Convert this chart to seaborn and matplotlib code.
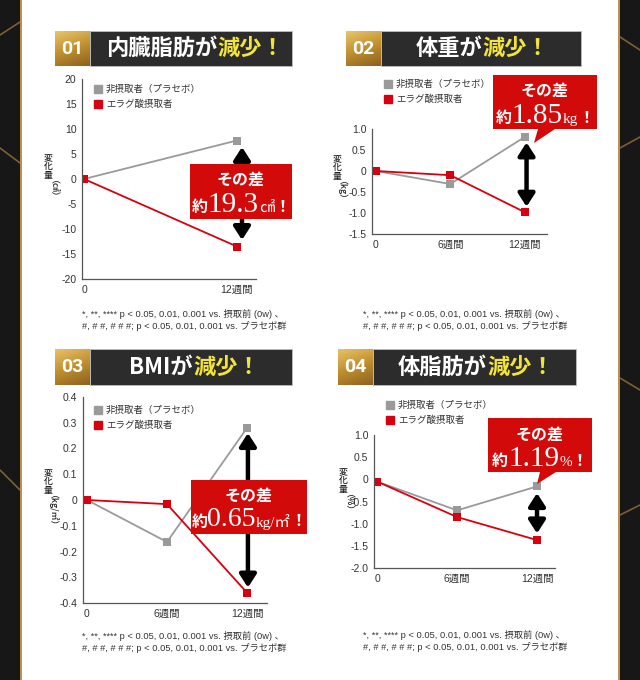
import matplotlib
matplotlib.use("Agg")
import matplotlib.pyplot as plt
import numpy as np
import pandas as pd
import seaborn as sns
from matplotlib.lines import Line2D
from matplotlib.patches import Rectangle, Polygon
from matplotlib.ticker import FuncFormatter
from matplotlib.offsetbox import TextArea, HPacker, AnnotationBbox

# ---- data ----
panel_numbers = ["01", "02", "03", "04"]
title_main = ["内臓脂肪が", "体重が", "BMIが", "体脂肪が"]
title_accent = "減少！"
group_names = ["非摂取者（プラセボ）", "エラグ酸摂取者"]

weeks_01 = [0, 12]
placebo_01 = [0.0, 7.7]
ellagic_01 = [0.0, -13.5]

weeks = [0, 6, 12]
placebo_02 = [0.0, -0.31, 0.81]
ellagic_02 = [0.0, -0.10, -0.98]
placebo_03 = [0.0, -0.163, 0.28]
ellagic_03 = [0.0, -0.016, -0.36]
placebo_04 = [-0.05, -0.70, -0.16]
ellagic_04 = [-0.05, -0.85, -1.37]

tick_labels_01 = ["0", "12週間"]
tick_labels = ["0", "6週間", "12週間"]

y_label = "変化量"
y_units = ["（㎠）", "（kg）", "（kg/㎡）", "（%）"]
diff_values = ["19.3", "1.85", "0.65", "1.19"]
diff_units = ["㎠", "kg", "kg/㎡", "%"]

footnote = ["*, **, **** p < 0.05, 0.01, 0.001 vs. 摂取前 (0w) 、",
            "#, # #, # # #; p < 0.05, 0.01, 0.001 vs. プラセボ群"]

GRAY = "#9a9a9a"
RED = "#d7000f"
CALLOUT = "#d20a0a"
CJK = ["Noto Sans CJK JP", "DejaVu Sans"]
SANS = ["Liberation Sans", "Noto Sans CJK JP", "DejaVu Sans"]
SERIF = ["Liberation Serif", "Noto Sans CJK JP", "DejaVu Sans"]

sns.set_style("white")
plt.rcParams["font.family"] = SANS

W, H = 640, 680
fig = plt.figure(figsize=(W / 100, H / 100), dpi=100)


def fx(x):
    return x / W


def fy(y):
    return 1 - y / H


def px_box(x0, y0, x1, y1):
    return [fx(x0), fy(y1), fx(x1) - fx(x0), fy(y0) - fy(y1)]


# ---- dark side borders ----
for x0, x1 in [(0, 20), (620, 640)]:
    fig.patches.append(Rectangle((fx(x0), 0), fx(x1) - fx(x0), 1, transform=fig.transFigure,
                                 facecolor="#171717", edgecolor="none", zorder=-2))
for x0 in [20, 618]:
    fig.patches.append(Rectangle((fx(x0), 0), fx(2), 1, transform=fig.transFigure,
                                 facecolor="#b88f4c", edgecolor="none", zorder=-1))
for (xa, ya), (xb, yb) in [((0, 35), (20, 22)), ((0, 148), (20, 163)), ((0, 470), (20, 490)),
                           ((620, 37), (640, 50)), ((620, 148), (640, 137)),
                           ((620, 378), (640, 390)), ((620, 515), (640, 505))]:
    fig.lines.append(Line2D([fx(xa), fx(xb)], [fy(ya), fy(yb)], transform=fig.transFigure,
                            color="#7d5f34", lw=1.2, zorder=-1))

# ---- layout per panel (pixels) ----
layouts = [
    dict(header=(55, 31, 90, 292, 66), joint=217, ax=(82, 79, 256, 279), xlim=(-0.16, 13.5),
         ylim=(-20, 20), ystep=5, ylab=(48, 153), leg=(98, 91), foot=(82, 320),
         box=(190, 164, 292, 219), tail=None, text_x=241, text_y=(180, 205), arrow_x=12.4, gap=1.3,
         num_size=21),
    dict(header=(346, 31, 381, 581, 66), joint=482, ax=(372, 129, 547, 234), xlim=(-0.32, 13.8),
         ylim=(-1.5, 1.0), ystep=0.5, ylab=(337, 154), leg=(388, 86), foot=(363, 320),
         box=(493, 75, 597, 129), tail=[(538, 129), (555, 129), (534, 143)], text_x=545,
         text_y=(91, 116), arrow_x=12.15, gap=0.13, num_size=21),
    dict(header=(55, 349, 90, 292, 385), joint=193, ax=(83, 397, 267, 603), xlim=(-0.3, 13.5),
         ylim=(-0.4, 0.4), ystep=0.1, ylab=(48, 468), leg=(98, 412), foot=(82, 642),
         box=(191, 480, 307, 534), tail=None, text_x=249, text_y=(496, 520), arrow_x=12.07,
         gap=0.02, num_size=20),
    dict(header=(338, 349, 373, 576, 385), joint=487, ax=(374, 435, 555, 568), xlim=(-0.23, 13.35),
         ylim=(-2.0, 1.0), ystep=0.5, ylab=(343, 467), leg=(390, 407), foot=(363, 641),
         box=(488, 418, 592, 472), tail=[(540, 472), (556, 472), (537, 484)], text_x=540,
         text_y=(435, 459), arrow_x=12.0, gap=0.15, num_size=21),
]

series = [
    (weeks_01, placebo_01, ellagic_01, tick_labels_01),
    (weeks, placebo_02, ellagic_02, tick_labels),
    (weeks, placebo_03, ellagic_03, tick_labels),
    (weeks, placebo_04, ellagic_04, tick_labels),
]

grad = np.linspace(0, 1, 64).reshape(-1, 1) + np.linspace(0, 0.35, 64).reshape(1, -1)
gold_cmap = matplotlib.colors.LinearSegmentedColormap.from_list("gold", ["#e9c56b", "#c0902f", "#8c6120"])


def make_formatter(step):
    def fmt(v, _):
        if abs(v) < 1e-9:
            return "0"
        if step >= 1:
            return f"{int(round(v))}"
        return f"{v:.1f}"
    return FuncFormatter(fmt)


for i, lay in enumerate(layouts):
    xw, yp, ye, xt = series[i]

    # header
    hx0, hy0, hsplit, hx1, hy1 = lay["header"]
    gax = fig.add_axes(px_box(hx0, hy0, hsplit, hy1))
    gax.imshow(grad, cmap=gold_cmap, aspect="auto")
    gax.axis("off")
    fig.patches.append(Rectangle((fx(hsplit), fy(hy1)), fx(hx1) - fx(hsplit), fy(hy0) - fy(hy1),
                                 transform=fig.transFigure, facecolor="#2c2c2c", edgecolor="#bdbdbd",
                                 lw=0.6, zorder=1))
    cy = fy((hy0 + hy1) / 2)
    fig.text(fx((hx0 + hsplit) / 2), cy, panel_numbers[i], color="white", fontsize=14,
             fontweight="bold", ha="center", va="center", family=["Roboto", "DejaVu Sans"], zorder=4)
    fig.text(fx(lay["joint"]), cy, title_main[i], color="white", fontsize=16, fontweight="bold",
             ha="right", va="center", family=CJK, zorder=4)
    fig.text(fx(lay["joint"]), cy, title_accent, color="#f3e43a", fontsize=16, fontweight="bold",
             ha="left", va="center", family=CJK, zorder=4)

    # chart
    ax = fig.add_axes(px_box(*lay["ax"]))
    ax.patch.set_alpha(0)
    df = pd.DataFrame({
        "week": list(xw) * 2,
        "change": list(yp) + list(ye),
        "group": [group_names[0]] * len(xw) + [group_names[1]] * len(xw),
    })
    sns.lineplot(data=df, x="week", y="change", hue="group", hue_order=group_names,
                 palette=[GRAY, RED], marker="s", markersize=5.5, markeredgewidth=0,
                 linewidth=1.3, legend=False, ax=ax)
    ax.set_xlim(*lay["xlim"])
    lo, hi = lay["ylim"]
    ax.set_ylim(lo, hi)
    ax.set_yticks(np.round(np.arange(lo, hi + lay["ystep"] / 2, lay["ystep"]), 2))
    ax.yaxis.set_major_formatter(make_formatter(lay["ystep"]))
    ax.set_xticks(xw)
    ax.set_xticklabels(xt)
    ax.set_xlabel("")
    ax.set_ylabel("")
    ax.tick_params(length=0, labelsize=7.5, labelcolor="#333333", pad=4)
    for s in ["top", "right"]:
        ax.spines[s].set_visible(False)
    for s in ["left", "bottom"]:
        ax.spines[s].set_color("#555555")
        ax.spines[s].set_linewidth(0.9)

    # double arrow between final values
    ax.annotate("", xy=(lay["arrow_x"], yp[-1] - lay["gap"]),
                xytext=(lay["arrow_x"], ye[-1] + lay["gap"]),
                arrowprops=dict(arrowstyle="<|-|>,head_length=0.7,head_width=0.45", lw=3.2,
                                color="black", shrinkA=0, shrinkB=0, mutation_scale=11),
                annotation_clip=False, zorder=5)

    # y label (vertical Japanese: upright kanji, rotated unit)
    lx, ly = lay["ylab"]
    step = 9.0
    for k, ch in enumerate(y_label):
        fig.text(fx(lx), fy(ly + step * (k + 0.5)), ch, fontsize=6.4, color="#222222",
                 ha="center", va="center", family=CJK, fontweight="medium")
    fig.text(fx(lx), fy(ly + step * len(y_label)), y_units[i], fontsize=6.4,
             color="#222222", ha="center", va="top", rotation=270, family=CJK,
             fontweight="medium")

    # legend
    lgx, lgy = lay["leg"]
    handles = [Line2D([], [], marker="s", color=c, linestyle="none", markersize=6)
               for c in [GRAY, RED]]
    fig.legend(handles, group_names, loc="upper left",
               bbox_to_anchor=(fx(lgx - 4.5), fy(lgy - 6)), bbox_transform=fig.transFigure,
               frameon=False, handlelength=1.0, handletextpad=0.3,
               labelspacing=0.55, borderpad=0, borderaxespad=0, labelcolor="#333333",
               prop=dict(family=CJK, size=6.8))

    # footnote
    ftx, fty = lay["foot"]
    fig.text(fx(ftx), fy(fty), footnote[0] + "\n" + footnote[1], fontsize=6.7, color="#333333",
             ha="left", va="center", linespacing=1.15)

    # callout
    bx0, by0, bx1, by1 = lay["box"]
    fig.patches.append(Rectangle((fx(bx0), fy(by1)), fx(bx1) - fx(bx0), fy(by0) - fy(by1),
                                 transform=fig.transFigure, facecolor=CALLOUT, edgecolor="none",
                                 zorder=6))
    if lay["tail"]:
        fig.patches.append(Polygon([(fx(a), fy(b)) for a, b in lay["tail"]], closed=True,
                                   transform=fig.transFigure, facecolor=CALLOUT,
                                   edgecolor="none", zorder=6))
    fig.text(fx(lay["text_x"]), fy(lay["text_y"][0]), "その差", color="white", fontsize=11.5,
             fontweight="bold", ha="center", va="center", family=CJK, zorder=7)
    white = dict(color="white")
    parts = [
        TextArea("約", textprops=dict(fontsize=11.5, fontweight="bold", family=CJK, **white)),
        TextArea(diff_values[i], textprops=dict(fontsize=lay["num_size"], family=SERIF, **white)),
        TextArea(diff_units[i], textprops=dict(fontsize=11, family=SERIF, **white)),
        TextArea("！", textprops=dict(fontsize=11.5, fontweight="bold", family=CJK, **white)),
    ]
    pack = HPacker(children=parts, align="baseline", pad=0, sep=0)
    ab = AnnotationBbox(pack, (fx(lay["text_x"]), fy(lay["text_y"][1])),
                        xycoords="figure fraction", frameon=False, box_alignment=(0.5, 0.5))
    ab.set_zorder(7)
    fig.add_artist(ab)

fig.savefig("out.png", dpi=100)
